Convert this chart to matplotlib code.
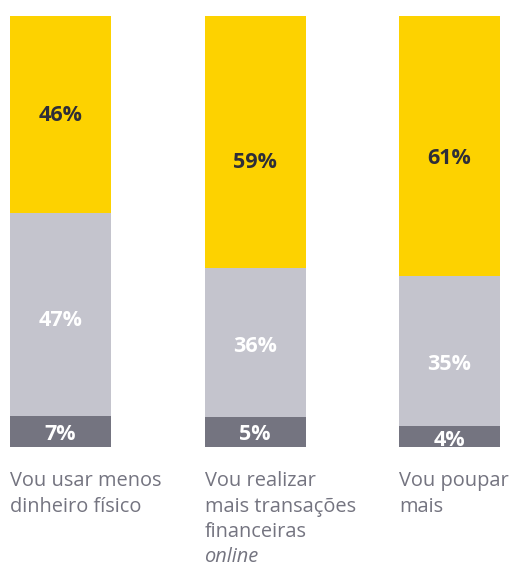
import numpy as np
import matplotlib
matplotlib.use('Agg')
import matplotlib.pyplot as plt

categories = [
    ['Vou usar menos', 'dinheiro físico'],
    ['Vou realizar', 'mais transações', 'financeiras', 'online'],
    ['Vou poupar', 'mais'],
]
italic_lines = {(1, 3)}

# printed percentages
bottom_labels = ['7%', '5%', '4%']
middle_labels = ['47%', '36%', '35%']
top_labels = ['46%', '59%', '61%']

# segment heights as drawn in the picture (share of the bar)
bottom_vals = [7.1, 6.9, 4.9]
middle_vals = [47.1, 34.5, 34.8]
top_vals = [45.8, 58.6, 60.3]

# where each label sits inside its segment (0 = bottom, 1 = top)
bottom_pos = [0.47, 0.49, 0.39]
middle_pos = [0.483, 0.488, 0.419]
top_pos = [0.507, 0.427, 0.458]

yellow = '#FDD200'
light_gray = '#C4C4CD'
dark_gray = '#747480'
text_dark = '#2E2E38'

plt.rcParams['font.family'] = ['Open Sans', 'DejaVu Sans']

fig = plt.figure(figsize=(5.1, 5.65), dpi=100)
ax = fig.add_axes([10 / 510, (565 - 446.7) / 565, 490 / 510, 430.7 / 565])

x = np.arange(len(categories))
width = 101 / 194.5
b = np.array(bottom_vals)
m = np.array(middle_vals)
t = np.array(top_vals)

ax.bar(x, b, width, color=dark_gray)
ax.bar(x, m, width, bottom=b, color=light_gray)
ax.bar(x, t, width, bottom=b + m, color=yellow)

fs = 15.5
cap_shift = -0.714 * fs / 2  # centre the digits (cap height) on the point


def seg_label(xi, y, s, color):
    ax.annotate(s, xy=(xi, y), xytext=(0, cap_shift), textcoords='offset points',
                ha='center', va='baseline', fontsize=fs, fontweight='bold',
                color=color)


for i in range(len(x)):
    seg_label(x[i], b[i] * bottom_pos[i], bottom_labels[i], 'white')
    seg_label(x[i], b[i] + m[i] * middle_pos[i], middle_labels[i], 'white')
    seg_label(x[i], b[i] + m[i] + t[i] * top_pos[i], top_labels[i], text_dark)

# category labels under the bars, left aligned with each bar
for i, lines in enumerate(categories):
    for j, line in enumerate(lines):
        style = 'italic' if (i, j) in italic_lines else 'normal'
        ax.annotate(line, xy=(x[i] - width / 2, 0), xycoords='data',
                    xytext=(0, -24.8 - j * 18.3), textcoords='offset points',
                    ha='left', va='center', fontsize=14.4, color=dark_gray,
                    fontstyle=style, annotation_clip=False)

ax.set_xlim(-50.5 / 194.5, 2 + 50.5 / 194.5)
ax.set_ylim(0, 100)
ax.axis('off')

fig.savefig('out.png', dpi=100)
